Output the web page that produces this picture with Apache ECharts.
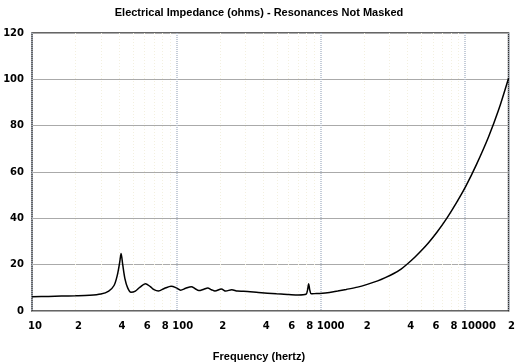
<!DOCTYPE html>
<html>
<head>
<meta charset="utf-8">
<script src="https://cdn.jsdelivr.net/npm/echarts@6/dist/echarts.min.js"></script>
<style>html,body{margin:0;padding:0;background:#fff}#c{width:518px;height:363px}</style>
</head>
<body>
<div id="c"></div>
<script>
// Frequency (Hz) and impedance (ohms)
var freqs = [10,13,16,20,25,30,34,37,39,40.5,41.4,42.5,44,46,48.5,52,56,61,66,70,75,83,92,100,107,116,127,135,143,155,165,175,185,205,220,242,265,292,370,494,600,700,790,810,825,840,860,900,985,1150,1310,1500,1800,2100,2480,2800,3230,3600,3980,4500,5000,5600,6380,7460,8720,10100,12000,14500,17000,20000];
var ohms  = [6.2,6.3,6.45,6.55,6.75,7.3,8.6,11,15.5,21,24.8,20,14,10,8.1,8.6,10.3,11.8,10.5,9.2,8.6,9.8,10.7,10,9.0,9.8,10.5,9.6,8.8,9.4,9.9,9.2,8.6,9.5,8.6,9.2,8.6,8.5,8.0,7.4,7.1,6.9,7.2,9,11.8,9,7.4,7.5,7.6,8.0,8.6,9.3,10.3,11.5,13,14.4,16.3,18.1,20.3,23.3,26.2,29.6,34.0,40.0,46.8,53.8,63.3,75,86.5,100.5];
var xLabelValues = [10,20,40,60,80,100,200,400,600,800,1000,2000,4000,6000,8000,10000,20000];
var xMinorValues = [20,30,40,50,60,70,80,90,200,300,400,500,600,700,800,900,2000,3000,4000,5000,6000,7000,8000,9000];
var yTicks = [0,20,40,60,80,100,120];
var titleText = 'Electrical Impedance (ohms) - Resonances Not Masked';
var xName = 'Frequency (hertz)';

var data = freqs.map(function(f,i){return [f, ohms[i]];});
var labelFont = {fontFamily:'DejaVu Sans', fontWeight:'bold', fontSize:10, color:'#000'};

var chart = echarts.init(document.getElementById('c'), null, {renderer:'canvas'});
chart.setOption({
  animation:false,
  backgroundColor:'#fff',
  title:[
    {text:titleText, left:'center', top:2, textStyle:{fontFamily:'Liberation Sans', fontWeight:'bold', fontSize:11, color:'#000'}},
    {text:xName, left:'center', top:346, textStyle:{fontFamily:'Liberation Sans', fontWeight:'bold', fontSize:11, color:'#000'}}
  ],
  grid:{left:32, right:7, top:33, bottom:52, show:true, borderColor:'#333', borderWidth:1.5, backgroundColor:'#fff'},
  xAxis:[
    {type:'log', logBase:10, min:10, max:20000, position:'bottom',
     axisLine:{show:false},
     axisTick:{show:false, customValues:xMinorValues},
     splitLine:{show:true, lineStyle:{color:'#f3f0e0', width:1, type:[1,2]}},
     axisLabel:Object.assign({customValues:xLabelValues, margin:10, align:'left', padding:[0,0,0,-4],
       formatter:function(v){var s=String(v); var p=Math.pow(10,Math.floor(Math.log10(v)+1e-9)); var d=Math.round(v/p); if(d===1) return s; return ' '+d;}}, labelFont)
    },
    {type:'log', logBase:10, min:10, max:20000, position:'bottom',
     axisLine:{show:false}, axisTick:{show:false}, axisLabel:{show:false},
     splitLine:{show:true, lineStyle:{color:'#b2bccd', width:1.5, type:[1,1]}}
    }
  ],
  yAxis:{type:'value', min:0, max:120, interval:20,
    axisLine:{show:false}, axisTick:{show:false},
    splitLine:{show:true, lineStyle:{color:'#aaaaaa', width:1}},
    axisLabel:Object.assign({margin:8, formatter:function(v){return yTicks.indexOf(v)>=0?String(v):'';}}, labelFont)
  },
  series:[{type:'line', xAxisIndex:0, data:data, showSymbol:false, smooth:0.3,
    lineStyle:{color:'#000', width:1.5}, z:5}]
});
</script>
</body>
</html>
